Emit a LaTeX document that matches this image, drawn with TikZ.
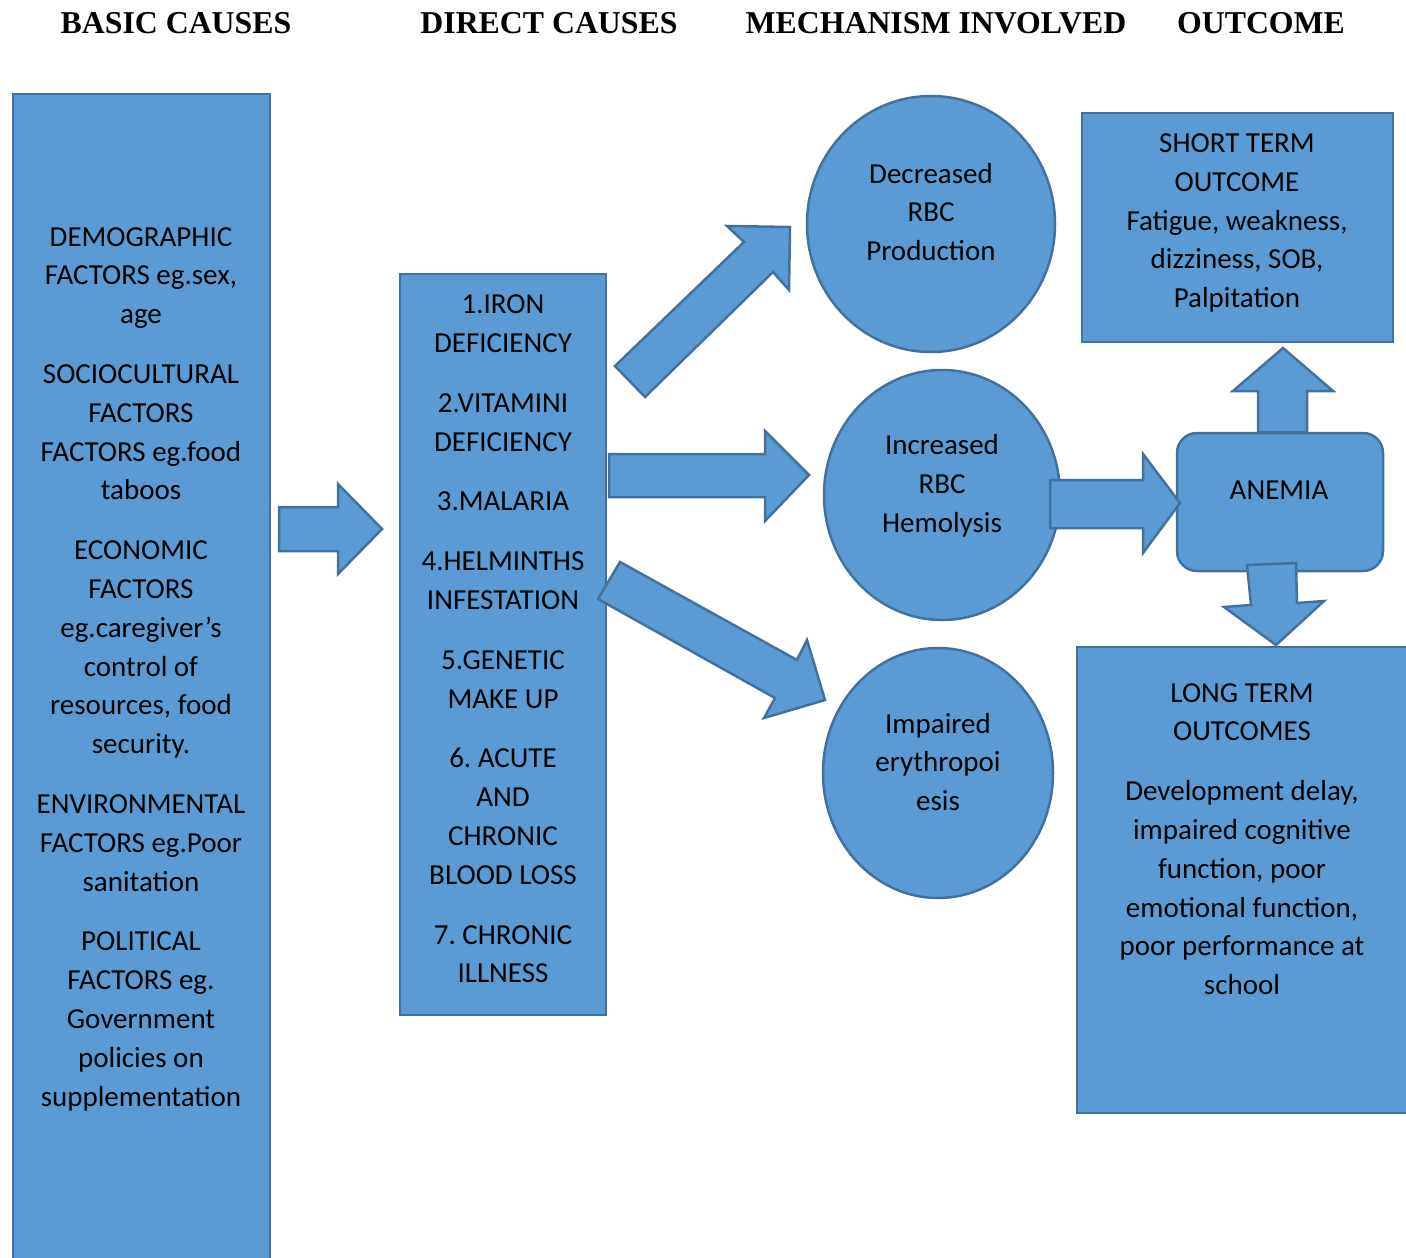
\documentclass[tikz,border=0pt]{standalone}
\usepackage{fontspec}
\setmainfont{Carlito}
\newfontfamily\headfont{Liberation Serif}
\definecolor{fillblue}{HTML}{5B9BD5}
\definecolor{edgeblue}{HTML}{41719C}
\tikzset{
  blk/.style={fill=fillblue, draw=edgeblue, line width=2.5pt, line join=miter},
  txt/.style={align=center, font=\fontsize{29}{38.8}\selectfont, inner sep=0pt, text=black},
  head/.style={font=\headfont\bfseries\fontsize{31.8}{36}\selectfont, inner sep=0pt, text=black}
}
\frenchspacing
\begin{document}
\frenchspacing
\begin{tikzpicture}[x=1pt,y=-1pt]
\useasboundingbox (0,0) rectangle (1406,1258);
\clip (0,0) rectangle (1406,1258);

% headers
\node[head] (h1) at (176,23) {BASIC CAUSES};
\node[head] (h2) at (549,23) {DIRECT CAUSES};
\node[head] (h3) at (936,23) {MECHANISM INVOLVED};
\node[head] (h4) at (1261,23) {OUTCOME};

% boxes and circles
\draw[blk] (13,94) rectangle (270,1280);
\draw[blk] (400,274) rectangle (606,1015);
\draw[blk] (931,224) ellipse [x radius=124, y radius=128];
\draw[blk] (942,495) ellipse [x radius=118, y radius=125];
\draw[blk] (938,773) ellipse [x radius=115, y radius=125];
\draw[blk] (1082,113) rectangle (1393,342);
\draw[blk, rounded corners=20pt] (1177,433) rectangle (1383,571);
\draw[blk] (1077,647) rectangle (1420,1113);

% block arrows
\draw[blk] (279,507) -- (338,507) -- (338,484) -- (382,529) -- (338,574) -- (338,551) -- (279,551) -- cycle;
\draw[blk] (615,366) -- (744,242) -- (727,226) -- (790,227) -- (789,290) -- (773,272) -- (645,397) -- cycle;
\draw[blk] (609,454) -- (765,454) -- (765,431) -- (809,475) -- (765,521) -- (765,497) -- (609,497) -- cycle;
\draw[blk] (620,562) -- (797,660) -- (807,640) -- (825,700) -- (764,718) -- (775,698) -- (598,599) -- cycle;
\draw[blk] (1050,480) -- (1143,480) -- (1143,454) -- (1180,503) -- (1143,553) -- (1143,528) -- (1050,528) -- cycle;
\draw[blk] (1258,432) -- (1258,391) -- (1233,391) -- (1283,348) -- (1333,391) -- (1307,391) -- (1307,432) -- cycle;
\draw[blk] (1247,565) -- (1296,563) -- (1297,603) -- (1324,601) -- (1276,645) -- (1224,607) -- (1251,605) -- cycle;

% texts
\node[txt] (basic) at (141,669) {DEMOGRAPHIC\\FACTORS eg.sex,\\age\\[21pt]
SOCIOCULTURAL\\FACTORS\\FACTORS eg.food\\taboos\\[21pt]
ECONOMIC\\FACTORS\\eg.caregiver’s\\control of\\resources, food\\security.\\[21pt]
ENVIRONMENTAL\\FACTORS eg.Poor\\sanitation\\[21pt]
POLITICAL\\FACTORS eg.\\Government\\policies on\\supplementation};

\node[txt] (direct) at (503,639) {1.IRON\\DEFICIENCY\\[21pt]
2.VITAMINI\\DEFICIENCY\\[21pt]
3.MALARIA\\[21pt]
4.HELMINTHS\\INFESTATION\\[21pt]
5.GENETIC\\MAKE UP\\[21pt]
6. ACUTE\\AND\\CHRONIC\\BLOOD LOSS\\[21pt]
7. CHRONIC\\ILLNESS};

\node[txt] (decr) at (931,212) {Decreased\\RBC\\Production};
\node[txt] (incr) at (942,486) {Increased\\RBC\\Hemolysis};
\node[txt] (impa) at (938,762) {Impaired\\erythropoi\\esis};
\node[txt] (short) at (1237,223) {SHORT TERM\\OUTCOME\\Fatigue, weakness,\\dizziness, SOB,\\Palpitation};
\node[txt] (anemia) at (1279,490) {ANEMIA};
\node[txt] (long) at (1242,839) {LONG TERM\\OUTCOMES\\[21pt]
Development delay,\\impaired cognitive\\function, poor\\emotional function,\\poor performance at\\school};
\end{tikzpicture}
\end{document}
